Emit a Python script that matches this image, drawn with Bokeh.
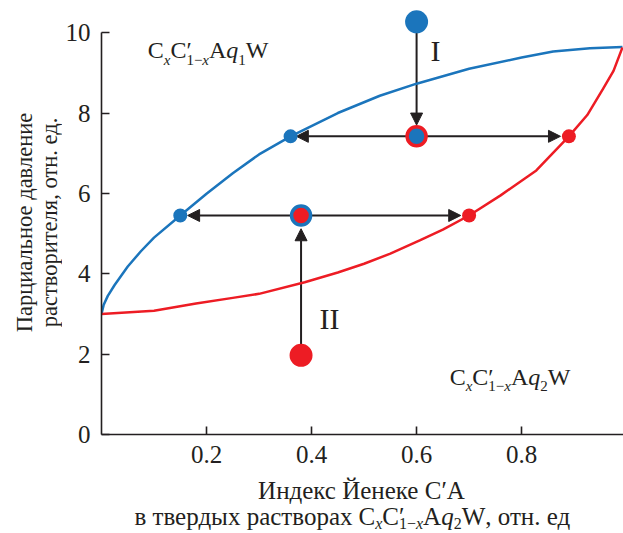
import math
from bokeh.plotting import figure
from bokeh.models import Label, Arrow, NormalHead, FixedTicker, Range1d
from bokeh.layouts import column, row
from bokeh.embed import file_html
from bokeh.resources import INLINE

# ---------------- data ----------------
blue_x = [0.0, 0.004, 0.012, 0.025, 0.05, 0.075, 0.10, 0.15, 0.20, 0.25, 0.30, 0.36, 0.45, 0.53, 0.60, 0.70, 0.80, 0.86, 0.93, 0.992]
blue_y = [3.0, 3.22, 3.45, 3.72, 4.18, 4.56, 4.90, 5.45, 5.99, 6.50, 6.97, 7.42, 8.00, 8.43, 8.73, 9.10, 9.38, 9.53, 9.61, 9.64]

red_x = [0.0, 0.10, 0.18, 0.25, 0.30, 0.387, 0.45, 0.50, 0.55, 0.606, 0.65, 0.70, 0.76, 0.828, 0.89, 0.925, 0.955, 0.975, 0.992]
red_y = [3.0, 3.08, 3.26, 3.40, 3.50, 3.79, 4.03, 4.25, 4.50, 4.83, 5.10, 5.45, 5.95, 6.57, 7.42, 7.95, 8.60, 9.05, 9.63]

big_blue_x, big_blue_y = [0.60], [10.27]
big_red_x, big_red_y = [0.38], [1.97]
ring_rb_x, ring_rb_y = [0.60], [7.42]   # red ring, blue core
ring_br_x, ring_br_y = [0.38], [5.45]   # blue ring, red core
small_blue_x, small_blue_y = [0.36, 0.15], [7.42, 5.45]
small_red_x, small_red_y = [0.89, 0.70], [7.42, 5.45]

arrow_x0 = [0.60, 0.60, 0.60, 0.38, 0.38, 0.38]
arrow_y0 = [10.27, 7.42, 7.42, 1.97, 5.45, 5.45]
arrow_x1 = [0.60, 0.371, 0.874, 0.38, 0.164, 0.684]
arrow_y1 = [7.70, 7.42, 7.42, 5.12, 5.45, 5.45]

x_ticks = [0.2, 0.4, 0.6, 0.8]
y_ticks = [0, 2, 4, 6, 8, 10]

BLUE = "#1b75bc"
RED = "#ed1c24"
BLACK = "#231f20"
FONT = "Liberation Serif"
MID = 0.35   # distance (em) from the baseline to the middle of a text box

W_LEFT = 62      # width of the y-title strip
H_MAIN = 474
H_XT = 59
W_TOT = 623
FRAME_BOTTOM = 434


def blank(w, h):
    f = figure(width=w, height=h, x_range=Range1d(0, 1), y_range=Range1d(0, 1),
               x_axis_location=None, y_axis_location=None, min_border=0,
               output_backend="svg", toolbar_location=None)
    f.outline_line_color = None
    f.grid.visible = False
    return f


p = figure(width=W_TOT - W_LEFT, height=H_MAIN, x_range=Range1d(0, 0.994), y_range=Range1d(0, 10.8),
           output_backend="svg", toolbar_location=None,
           min_border_left=101 - W_LEFT, min_border_right=0, min_border_top=0,
           min_border_bottom=H_MAIN - FRAME_BOTTOM)
p.outline_line_color = None
p.xgrid.visible = False
p.ygrid.visible = False

for ax in (p.xaxis[0], p.yaxis[0]):
    ax.axis_line_color = BLACK
    ax.axis_line_width = 1.6
    ax.major_tick_line_color = BLACK
    ax.major_tick_line_width = 1.6
    ax.major_tick_in = 8
    ax.major_tick_out = 0
    ax.minor_tick_in = 0
    ax.minor_tick_out = 0
    ax.major_label_text_font = FONT
    ax.major_label_text_font_size = "25px"
    ax.major_label_text_color = BLACK
p.xaxis[0].ticker = FixedTicker(ticks=x_ticks)
p.yaxis[0].ticker = FixedTicker(ticks=y_ticks)
p.yaxis[0].bounds = (0, 10)
p.xaxis[0].major_label_standoff = 11
p.yaxis[0].major_label_standoff = 11

p.line(blue_x, blue_y, line_color=BLUE, line_width=2.5)
p.line(red_x, red_y, line_color=RED, line_width=2.5)

for x0, y0, x1, y1 in zip(arrow_x0, arrow_y0, arrow_x1, arrow_y1):
    p.add_layout(Arrow(end=NormalHead(size=12, fill_color=BLACK, line_color=BLACK, line_width=1),
                       x_start=x0, y_start=y0, x_end=x1, y_end=y1,
                       line_color=BLACK, line_width=2, level="underlay"))

p.scatter(big_blue_x, big_blue_y, size=23, fill_color=BLUE, line_color=None)
p.scatter(big_red_x, big_red_y, size=23, fill_color=RED, line_color=None)
p.scatter(ring_rb_x, ring_rb_y, size=19, fill_color=BLUE, line_color=RED, line_width=3.5)
p.scatter(ring_br_x, ring_br_y, size=19, fill_color=RED, line_color=BLUE, line_width=3.5)
p.scatter(small_blue_x, small_blue_y, size=14, fill_color=BLUE, line_color=None)
p.scatter(small_red_x, small_red_y, size=14, fill_color=RED, line_color=None)


def lab(fig, x, y, text, size, x_offset=0, y_offset=0, rotated=False, **kw):
    """Place text so that its baseline lies at the given point (+offsets)."""
    opts = dict(text_font=FONT, text_font_size=f"{size}px", text_color=BLACK,
                text_baseline="middle")
    opts.update(kw)
    if rotated:
        x_offset -= MID * size
        opts["angle"] = math.pi / 2
    else:
        y_offset += MID * size
    fig.add_layout(Label(x=x, y=y, text=text, x_offset=x_offset, y_offset=y_offset, **opts))


p.add_layout(Label(x=0.636, y=9.55, text="I", text_font=FONT, text_font_size="30px", text_color=BLACK,
                   text_align="center", text_baseline="middle"))
p.add_layout(Label(x=0.434, y=2.89, text="II", text_font=FONT, text_font_size="30px", text_color=BLACK,
                   text_align="center", text_baseline="middle"))

W_EM = {"C": 0.667, "A": 0.722, "W": 0.944, "1": 0.5, "2": 0.5, "\u2212": 0.564, "x": 0.444, "q": 0.5}


def formula(fig, x, y, x_off, y_off, idx, M, S, D, **units):
    runs = [("C", M, False, 0, True), ("x", S, True, D, True), ("C", M, False, 0, True),
            ("\u2032", M, False, 0, False), ("1\u2212", S, False, D, True), ("x", S, True, D, True),
            ("A", M, False, 0, True), ("q", M, True, 0, True), (idx, S, False, D, True),
            ("W", M, False, 0, True)]
    cur = x_off
    for text, size, italic, dy, adv in runs:
        lab(fig, x, y, text, size, x_offset=cur, y_offset=y_off - dy,
            text_font_style="italic" if italic else "normal", text_align="left", **units)
        if adv:
            cur += sum(W_EM[c] for c in text) * size
    return cur


formula(p, 0.088, 9.35, 0, 0, "1", 24, 15, 6)
formula(p, 0.663, 1.22, 0, 0, "2", 24, 15, 6)

# ---- x axis title (strip below the plot) ----
xt = blank(W_TOT, H_XT)
scr = dict(x_units="screen", y_units="screen")
lab(xt, 361, 533 - 499, "Индекс Йенеке C\u2032A", 25, text_align="center", **scr)
fx = 358
ly2 = 533 - 525
lab(xt, fx - 6, ly2, "в твердых растворах", 25, text_align="right", **scr)
end = formula(xt, fx, ly2, 0, 0, "2", 25, 16, 4, **scr)
lab(xt, fx + end, ly2, ", отн. ед", 25, text_align="left", **scr)

# ---- y axis title (strip left of the plot; its frame is aligned with the plot frame) ----
yt = blank(W_LEFT, H_MAIN)
yc = FRAME_BOTTOM - 222
lab(yt, 32, yc, "Парциальное давление", 22.5, rotated=True, text_align="center", **scr)
lab(yt, 57, yc, "растворителя, отн. ед.", 22.5, rotated=True, text_align="center", **scr)

layout = column(row(yt, p, spacing=0), xt, spacing=0)
open("out.html", "w").write(file_html(layout, INLINE))
